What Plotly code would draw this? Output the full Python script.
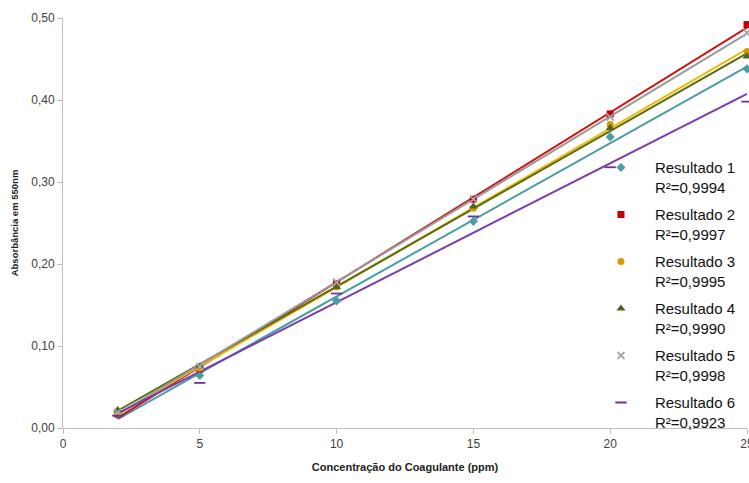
import numpy as np
import plotly.graph_objects as go

x = [2, 5, 10, 15, 20, 25]
series_names = ["Resultado 1", "Resultado 2", "Resultado 3", "Resultado 4", "Resultado 5", "Resultado 6"]
r2_labels = ["R²=0,9994", "R²=0,9997", "R²=0,9995", "R²=0,9990", "R²=0,9998", "R²=0,9923"]
res1 = [0.016, 0.064, 0.155, 0.252, 0.355, 0.438]
res2 = [0.017, 0.072, 0.176, 0.279, 0.383, 0.492]
res3 = [0.018, 0.073, 0.172, 0.268, 0.370, 0.459]
res4 = [0.022, 0.075, 0.172, 0.270, 0.366, 0.453]
res5 = [0.019, 0.075, 0.178, 0.279, 0.379, 0.482]
res6 = [0.015, 0.055, 0.164, 0.258, 0.318, 0.398]
x_ticks = [0, 5, 10, 15, 20, 25]
y_ticks = [0.0, 0.1, 0.2, 0.3, 0.4, 0.5]

series = [res1, res2, res3, res4, res5, res6]
marker_colors = ["#4A9DA6", "#C00000", "#D49A00", "#4F6228", "#A6A6A6", "#7030A0"]
line_colors = ["#4A9DA6", "#D01010", "#F0B800", "#5A6B10", "#9A9A9A", "#7A3CB0"]
symbols = ["diamond", "square", "circle", "triangle-up", "x-thin-open", "line-ew-open"]
sizes = [7, 7, 7, 8, 7, 8]

fig = go.Figure()
for i, ys in enumerate(series):
    m, b = np.polyfit(x, ys, 1)
    xl = np.array([min(x), max(x)])
    fig.add_trace(go.Scatter(x=xl, y=m * xl + b, mode="lines",
                             line=dict(color=line_colors[i], width=2),
                             showlegend=False, hoverinfo="skip", cliponaxis=False))
for i, ys in enumerate(series):
    mk = dict(symbol=symbols[i], size=sizes[i], color=marker_colors[i])
    if symbols[i] in ("x-thin-open", "line-ew-open"):
        mk["line"] = dict(color=marker_colors[i], width=1.8)
    else:
        mk["line"] = dict(width=0)
    fig.add_trace(go.Scatter(x=x, y=ys, mode="markers", marker=mk, cliponaxis=False,
                             legendgroup="g%d" % i,
                             name=series_names[i] + "<br>" + r2_labels[i]))

fig.update_layout(
    width=749, height=483,
    margin=dict(l=63, r=2, t=18, b=55),
    paper_bgcolor="white", plot_bgcolor="white",
    separators=",.",
    font=dict(family="Liberation Sans, Arial, sans-serif", color="#404040", size=12),
    legend=dict(x=0.766, y=0.675, xanchor="left", yanchor="top", valign="top",
                font=dict(size=15, color="#111111"),
                bgcolor="rgba(0,0,0,0)", tracegroupgap=5, itemwidth=58),
    xaxis=dict(range=[0, 25], tickvals=x_ticks, showgrid=False, zeroline=False,
               automargin=False, ticklabeloverflow="allow",
               showline=True, linecolor="#BFBFBF", linewidth=1,
               ticks="outside", tickcolor="#BFBFBF", ticklen=5,
               tickfont=dict(size=12, color="#404040"),
               title=dict(text="<b>Concentração do Coagulante (ppm)</b>",
                          font=dict(size=11, color="#222222"), standoff=12)),
    yaxis=dict(range=[0, 0.5], tickvals=y_ticks, tickformat=".2f", showgrid=False,
               automargin=False,
               zeroline=False, showline=True, linecolor="#BFBFBF", linewidth=1,
               ticks="outside", tickcolor="#BFBFBF", ticklen=5,
               tickfont=dict(size=12, color="#404040"),
               title=dict(text="<b>Absorbância em 550nm</b>",
                          font=dict(size=9.5, color="#222222"), standoff=10)),
)
fig.write_html("out.html", config={"displayModeBar": False},
               post_script="document.body.style.margin='0';")
